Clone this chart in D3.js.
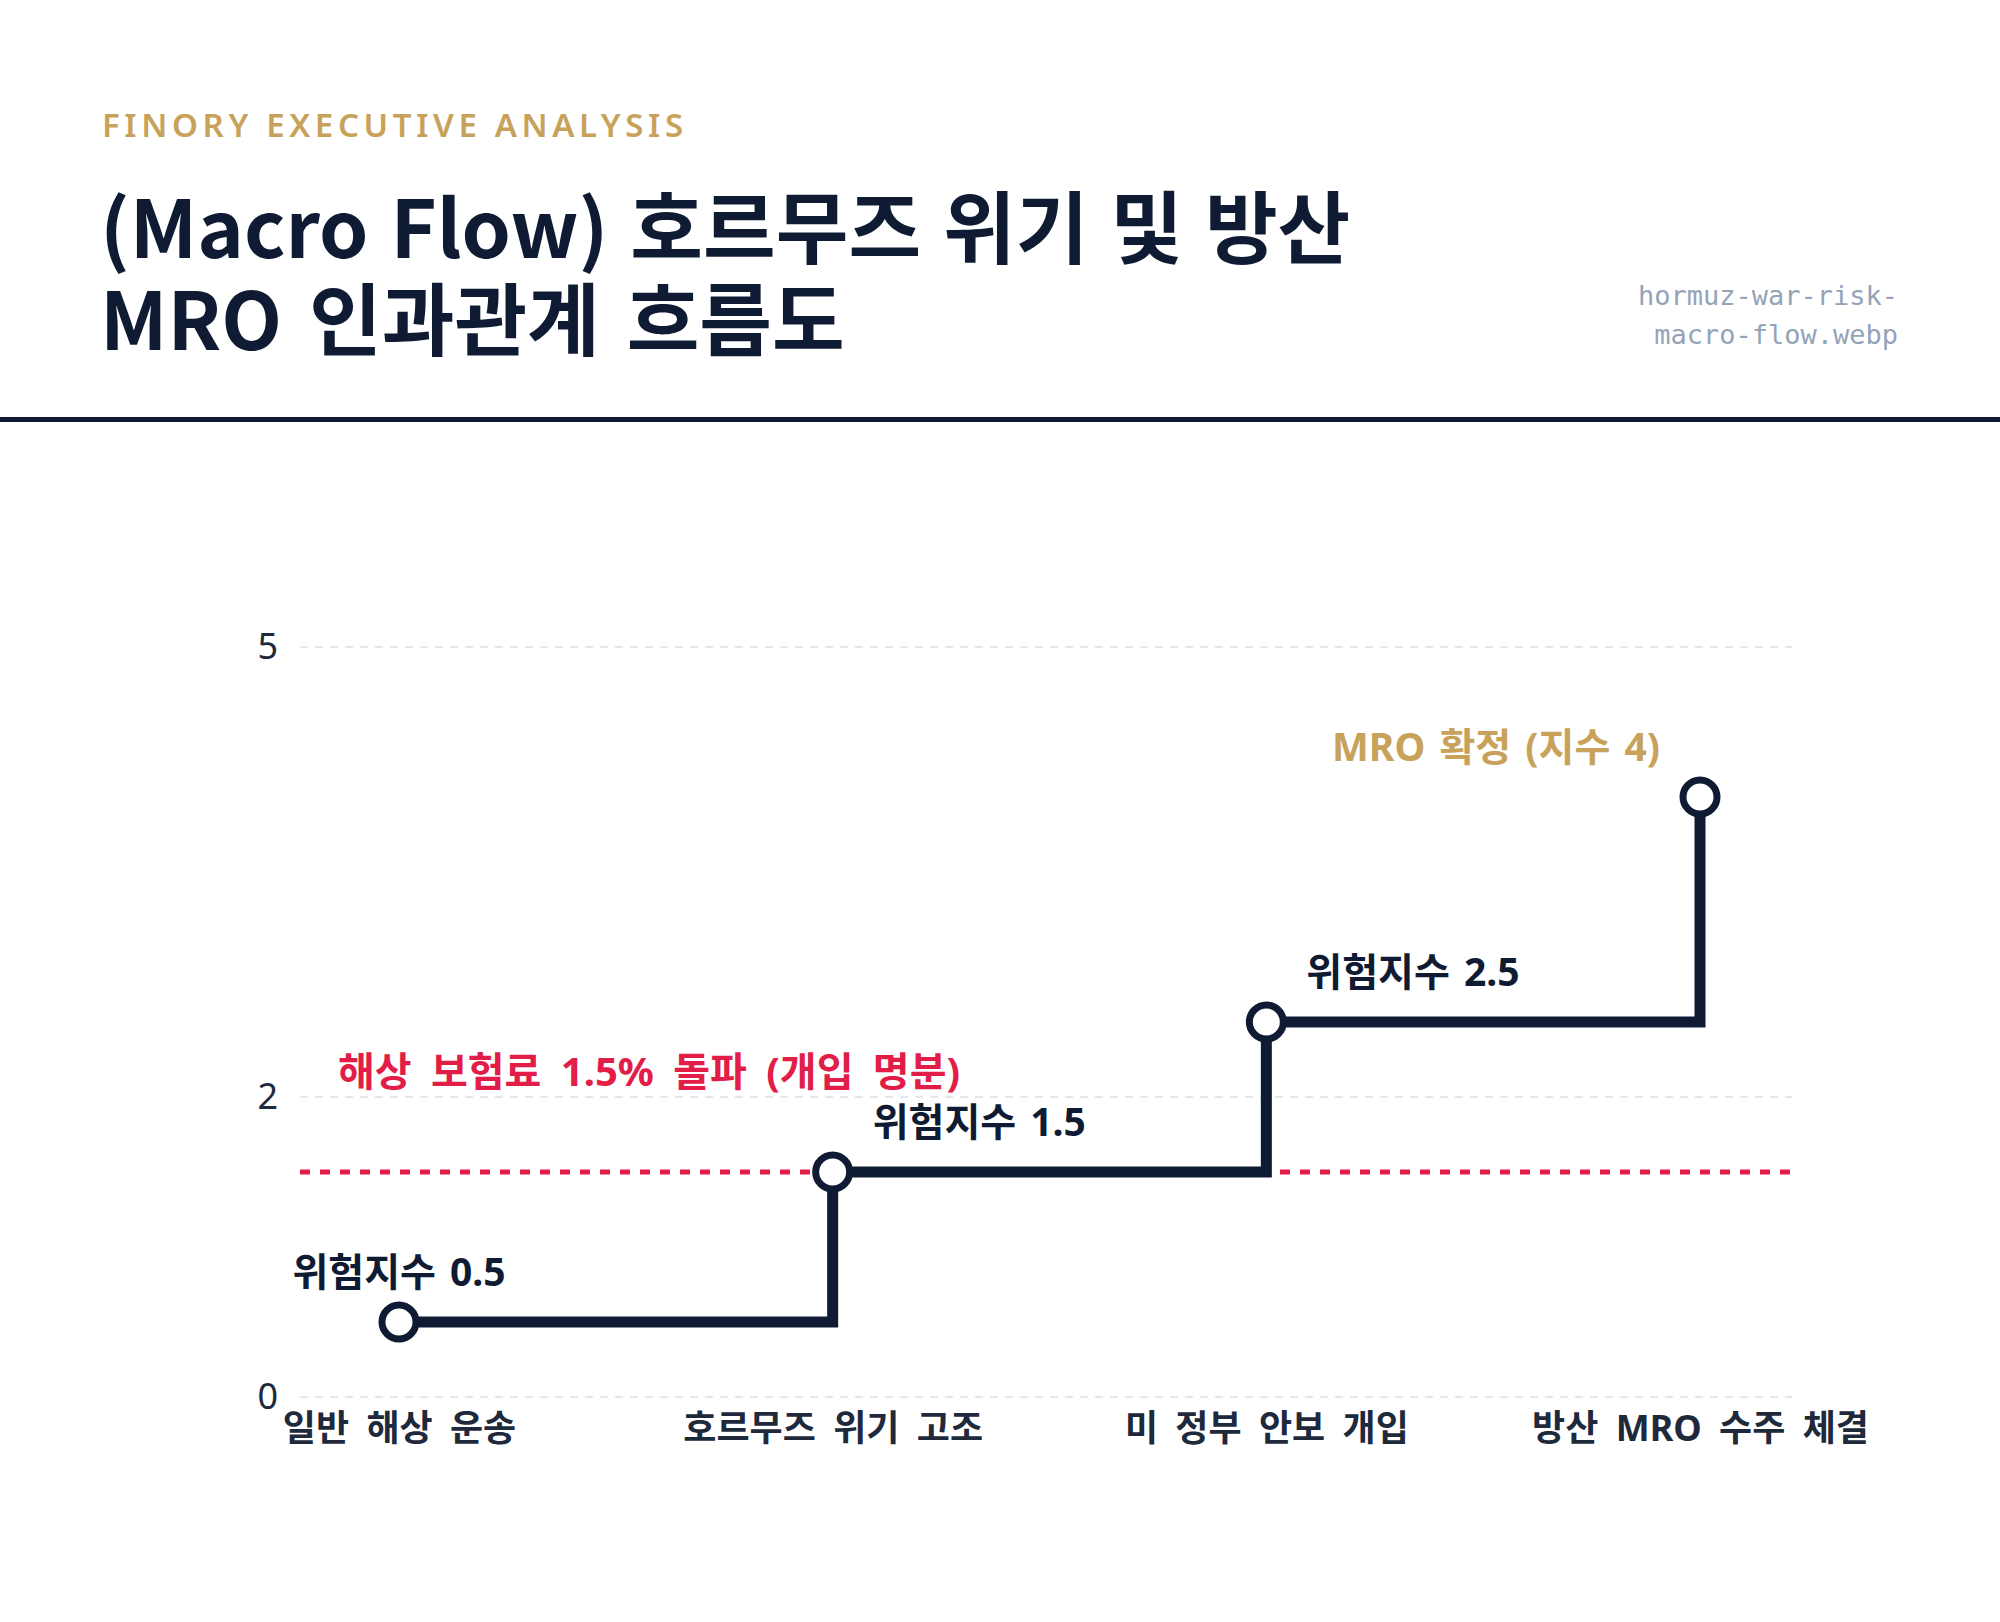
<!DOCTYPE html>
<html>
<head>
<meta charset="utf-8">
<script src="https://cdn.jsdelivr.net/npm/d3@7"></script>
<style>
  html, body { margin: 0; padding: 0; background: #ffffff; }
  svg { display: block; }
  text { font-family: 'Noto Sans', 'Noto Sans CJK KR', sans-serif; }
</style>
</head>
<body>
<svg id="chart" width="2000" height="1622"></svg>
<script>
// ---- data ----
const categories = ["일반 해상 운송", "호르무즈 위기 고조", "미 정부 안보 개입", "방산 MRO 수주 체결"];
const riskValues = [0.5, 1.5, 2.5, 4];
const pointLabels = ["위험지수 0.5", "위험지수 1.5", "위험지수 2.5", "MRO 확정 (지수 4)"];
const yTicks = [0, 2, 5];
const thresholdValue = 1.5;
const thresholdLabel = "해상 보험료 1.5% 돌파 (개입 명분)";
const kicker = "FINORY EXECUTIVE ANALYSIS";
const titleLines = ["(Macro Flow) 호르무즈 위기 및 방산", "MRO 인과관계 흐름도"];
const fileLines = ["hormuz-war-risk-", "macro-flow.webp"];

// ---- styles ----
const NAVY = "#0f1b33";
const GOLD = "#c8a25a";
const RED = "#e11d48";
const SLATE = "#1e293b";
const CJK = "'Noto Sans CJK KR', sans-serif";
const MIX = "'Noto Sans', 'Noto Sans CJK KR', sans-serif";

const svg = d3.select("#chart");
svg.append("rect").attr("width", 2000).attr("height", 1622).attr("fill", "#ffffff");

// header
svg.append("text")
  .attr("x", 102).attr("y", 137)
  .attr("fill", GOLD)
  .attr("font-size", 33).attr("font-weight", 600)
  .attr("letter-spacing", "0.14em")
  .text(kicker);

svg.selectAll("text.title").data(titleLines).enter().append("text")
  .attr("class", "title")
  .attr("x", 100).attr("y", (d, i) => 258 + i * 92)
  .attr("fill", NAVY)
  .attr("font-size", 79).attr("font-weight", 700)
  .attr("word-spacing", (d, i) => i === 0 ? "4px" : "9px")
  .style("font-family", CJK)
  .text(d => d);

svg.selectAll("text.file").data(fileLines).enter().append("text")
  .attr("class", "file")
  .attr("x", 1898).attr("y", (d, i) => 305 + i * 39)
  .attr("text-anchor", "end")
  .attr("fill", "#94a3b8")
  .attr("font-size", 27)
  .style("font-family", "'DejaVu Sans Mono', monospace")
  .text(d => d);

svg.append("rect").attr("x", 0).attr("y", 417).attr("width", 2000).attr("height", 5).attr("fill", NAVY);

// ---- scales ----
const plotLeft = 300, plotRight = 1792;
const x = d3.scalePoint().domain(categories).range([399, 1700]);
const y = d3.scaleLinear().domain([0, 5]).range([1397, 647]);

// gridlines
svg.append("g").selectAll("line.grid").data(yTicks).enter().append("line")
  .attr("x1", plotLeft).attr("x2", plotRight)
  .attr("y1", d => y(d)).attr("y2", d => y(d))
  .attr("stroke", "#e2e8f0").attr("stroke-width", 2)
  .attr("stroke-dasharray", "8 7");

// y axis labels
const yAxis = d3.axisLeft(y).tickValues(yTicks).tickSize(0).tickPadding(0).tickFormat(d3.format("d"));
const ya = svg.append("g").attr("transform", `translate(278,0)`).call(yAxis);
ya.select(".domain").remove();
ya.selectAll("text")
  .attr("font-size", 36).attr("fill", SLATE).attr("font-weight", 400)
  .style("font-family", "'Noto Sans', sans-serif");

// x axis labels
const xAxis = d3.axisBottom(x).tickSize(0).tickPadding(0);
const xa = svg.append("g").attr("transform", `translate(0,1410)`).call(xAxis);
xa.select(".domain").remove();
xa.selectAll("text")
  .attr("dy", null).attr("y", 31)
  .attr("font-size", 36).attr("fill", SLATE).attr("font-weight", 700)
  .attr("word-spacing", "8px")
  .style("font-family", MIX);

// threshold line
svg.append("line")
  .attr("x1", plotLeft).attr("x2", plotRight)
  .attr("y1", y(thresholdValue)).attr("y2", y(thresholdValue))
  .attr("stroke", RED).attr("stroke-width", 5)
  .attr("stroke-dasharray", "10 10");

svg.append("text")
  .attr("x", plotLeft + 38).attr("y", y(thresholdValue) - 86)
  .attr("fill", RED).attr("font-size", 40).attr("font-weight", 700)
  .attr("word-spacing", "9px")
  .style("font-family", MIX)
  .text(thresholdLabel);

// step line
const pts = categories.map((c, i) => ({ c, v: riskValues[i], label: pointLabels[i] }));
const line = d3.line().x(d => x(d.c)).y(d => y(d.v)).curve(d3.curveStepAfter);
svg.append("path").datum(pts)
  .attr("d", line)
  .attr("fill", "none").attr("stroke", NAVY).attr("stroke-width", 11)
  .attr("stroke-linejoin", "miter").attr("stroke-linecap", "butt");

svg.selectAll("circle.pt").data(pts).enter().append("circle")
  .attr("cx", d => x(d.c)).attr("cy", d => y(d.v)).attr("r", 17)
  .attr("fill", "#ffffff").attr("stroke", NAVY).attr("stroke-width", 7);

const n = pts.length;
svg.selectAll("text.pl").data(pts).enter().append("text")
  .attr("x", (d, i) => x(d.c) + (i === 0 ? 0 : i === n - 1 ? -40 : 40))
  .attr("y", d => y(d.v) - 36)
  .attr("text-anchor", (d, i) => i === 0 ? "middle" : i === n - 1 ? "end" : "start")
  .attr("fill", (d, i) => i === n - 1 ? GOLD : NAVY)
  .attr("font-size", 39).attr("font-weight", 700)
  .attr("word-spacing", "4px")
  .style("font-family", MIX)
  .text(d => d.label);
</script>
</body>
</html>
